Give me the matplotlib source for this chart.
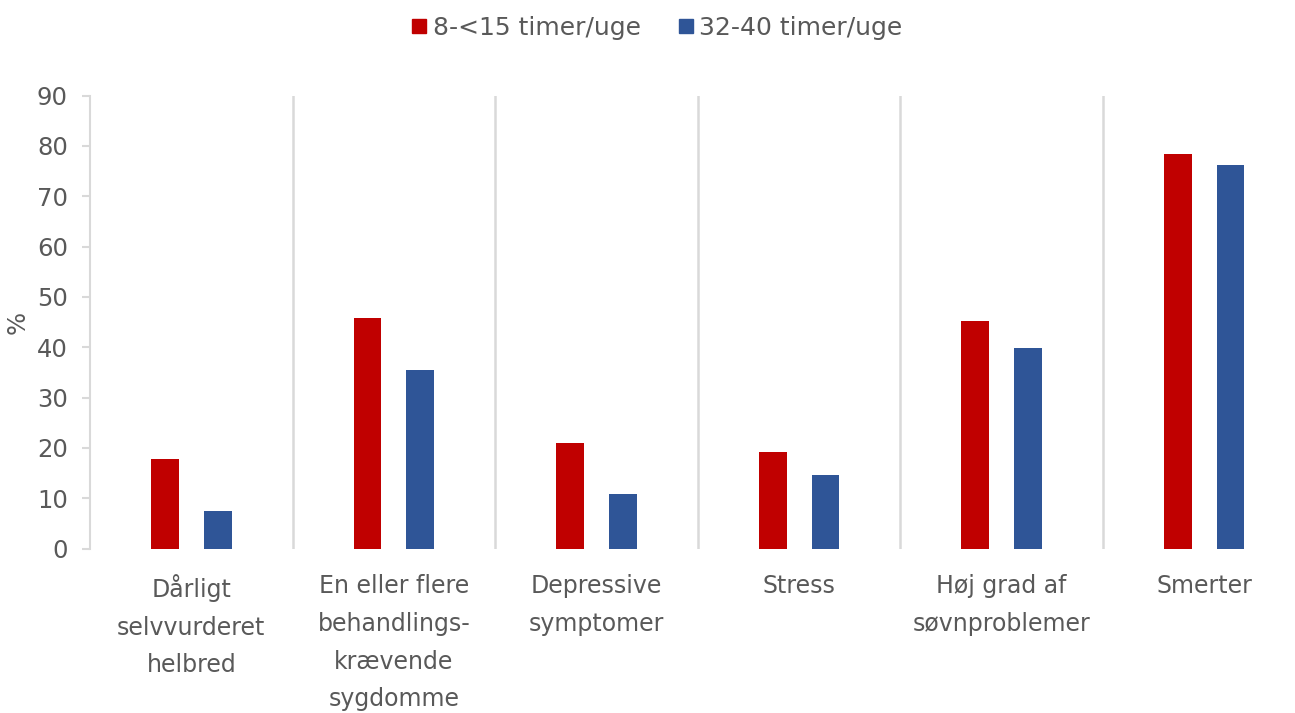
import matplotlib
matplotlib.use("Agg")
import matplotlib.pyplot as plt
import numpy as np
from matplotlib.lines import Line2D

categories = [
    "Dårligt\nselvvurderet\nhelbred",
    "En eller flere\nbehandlings-\nkrævende\nsygdomme",
    "Depressive\nsymptomer",
    "Stress",
    "Høj grad af\nsøvnproblemer",
    "Smerter",
]
series_names = ["8-<15 timer/uge", "32-40 timer/uge"]
red_values = [17.7, 45.7, 20.9, 19.1, 45.2, 78.3]
blue_values = [7.4, 35.4, 10.8, 14.6, 39.9, 76.1]
yticks = [0, 10, 20, 30, 40, 50, 60, 70, 80, 90]

RED = "#C00000"
BLUE = "#2F5597"
TXT = "#595959"
GRID = "#D9D9D9"
FS = 17

plt.rcParams["font.family"] = ["DejaVu Sans"]

fig = plt.figure(figsize=(12.95, 7.13), dpi=100)
ax = fig.add_axes([90 / 1295, 1 - 548.5 / 713, (1305.5 - 90) / 1295, (548.5 - 95.5) / 713])

x = np.arange(len(categories))
w = 0.137
off = 0.13
ax.bar(x - off, red_values, width=w, color=RED, zorder=3)
ax.bar(x + off, blue_values, width=w, color=BLUE, zorder=3)

ax.set_xlim(-0.5, len(categories) - 0.5)
ax.set_ylim(0, 90)
ax.set_yticks(yticks)
ax.set_yticklabels([str(v) for v in yticks])

ax.set_xticks(x)
ax.set_xticklabels(categories, linespacing=1.72)
ax.set_xticks(np.arange(0.5, len(categories) - 0.5, 1), minor=True)
ax.grid(which="minor", axis="x", color=GRID, linewidth=1.8, zorder=0)
ax.tick_params(axis="x", which="both", length=0, pad=18.5, labelsize=FS, labelcolor=TXT)
ax.tick_params(axis="y", length=6, width=1.5, color=GRID, pad=10, labelsize=FS + 0.5, labelcolor=TXT)

for s in ["top", "right", "bottom"]:
    ax.spines[s].set_visible(False)
ax.spines["left"].set_color(GRID)
ax.spines["left"].set_linewidth(1.5)

ax.set_ylabel("%", fontsize=FS + 0.5, color=TXT, labelpad=5)

handles = [
    Line2D([], [], marker="s", linestyle="none", markersize=10, color=RED),
    Line2D([], [], marker="s", linestyle="none", markersize=10, color=BLUE),
]
leg = fig.legend(handles, series_names, loc="center", bbox_to_anchor=(657 / 1295, 1 - 28 / 713),
                 ncol=2, frameon=False, fontsize=FS + 1, handlelength=0.6, handletextpad=0.25,
                 columnspacing=1.5)
for t in leg.get_texts():
    t.set_color(TXT)

fig.savefig("out.png", dpi=100)
